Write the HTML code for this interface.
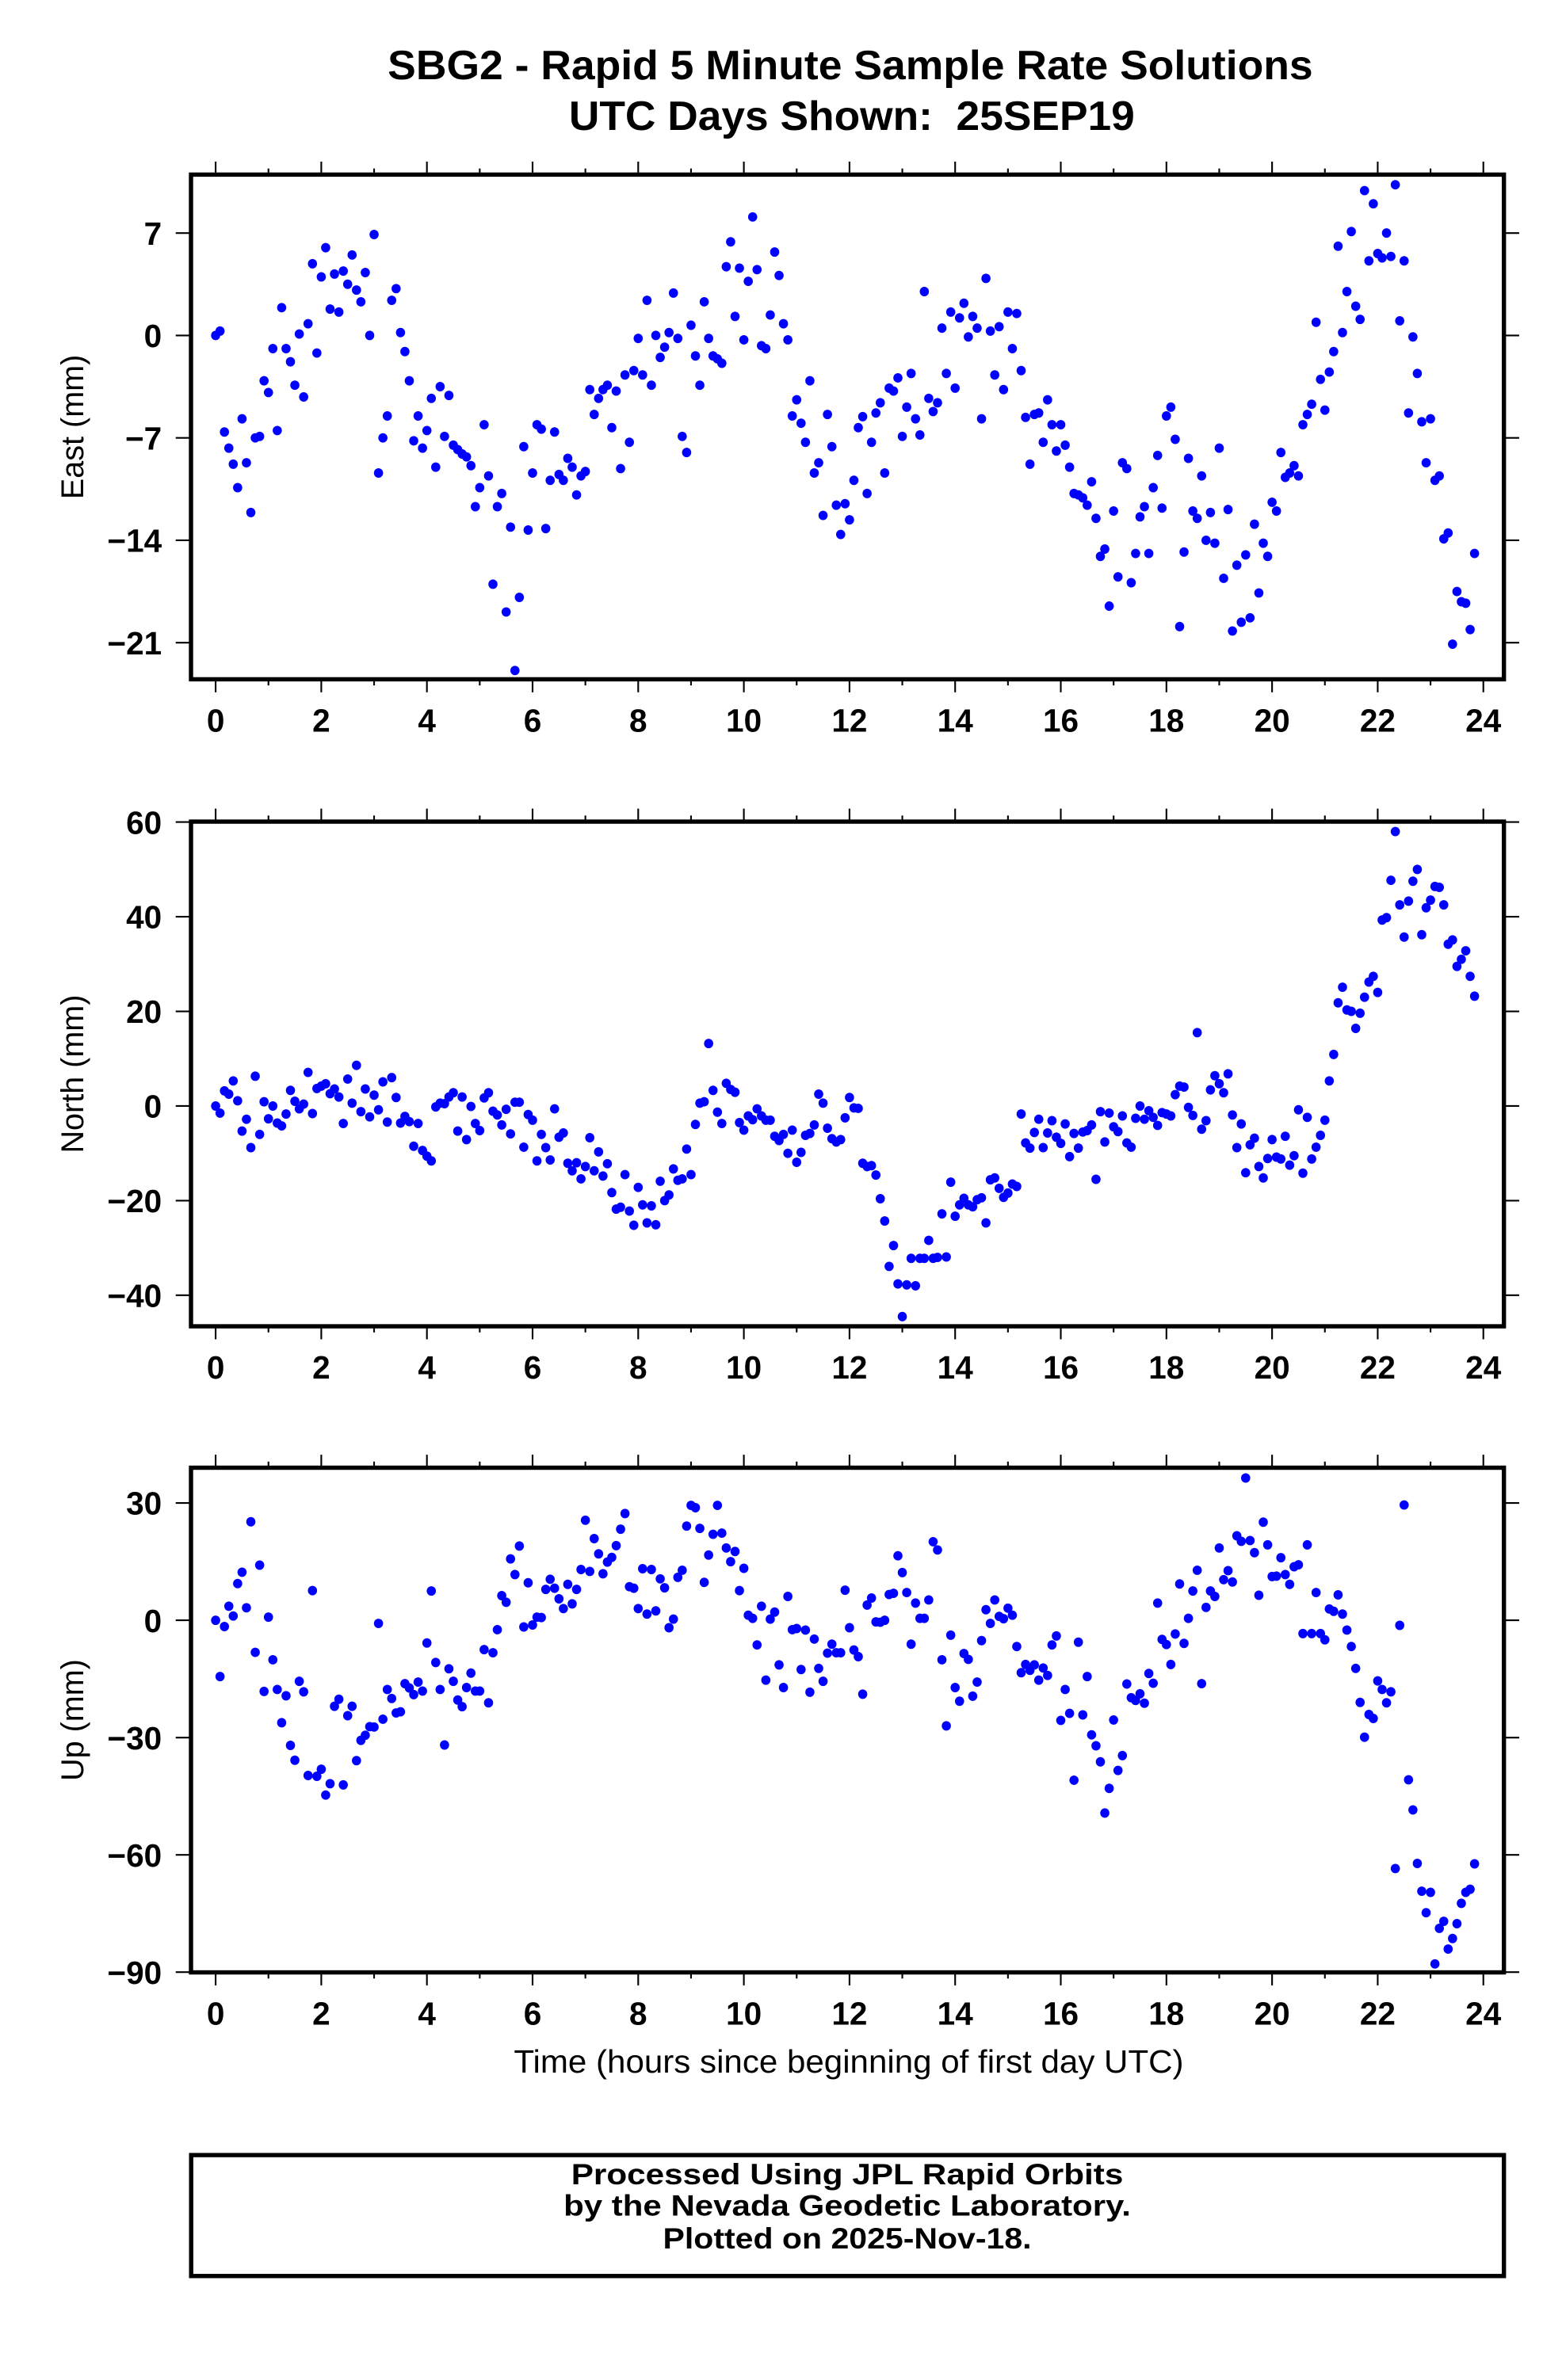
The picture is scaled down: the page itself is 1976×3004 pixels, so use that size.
<!DOCTYPE html>
<html><head><meta charset="utf-8"><title>SBG2 - Rapid 5 Minute Sample Rate Solutions</title>
<style>
html,body{margin:0;padding:0;background:#fff;}
svg{display:block;}
text{font-family:"Liberation Sans",Arial,sans-serif;fill:#000;}
.b{font-weight:bold;}
</style></head>
<body>
<svg id="chart" xmlns="http://www.w3.org/2000/svg" width="1976" height="3004" viewBox="0 0 1024 1556.7">
<rect x="0" y="0" width="1024" height="1556.7" fill="#fff"/>
<text class="b" x="556" y="51.8" font-size="27" text-anchor="middle" textLength="605" lengthAdjust="spacingAndGlyphs">SBG2 - Rapid 5 Minute Sample Rate Solutions</text>
<text class="b" x="557" y="85" font-size="27" text-anchor="middle" textLength="370" lengthAdjust="spacingAndGlyphs" xml:space="preserve">UTC Days Shown:  25SEP19</text>
<g id="plots"></g>
<text x="555" y="1355.7" font-size="21" text-anchor="middle" textLength="438" lengthAdjust="spacingAndGlyphs">Time (hours since beginning of first day UTC)</text>
<rect x="125" y="1409.6" width="858.4" height="79.1" fill="none" stroke="#000" stroke-width="2.8"/>
<text class="b" x="554" y="1428.6" font-size="19" text-anchor="middle" textLength="361" lengthAdjust="spacingAndGlyphs">Processed Using JPL Rapid Orbits</text>
<text class="b" x="554" y="1449.3" font-size="19" text-anchor="middle" textLength="371" lengthAdjust="spacingAndGlyphs">by the Nevada Geodetic Laboratory.</text>
<text class="b" x="554" y="1470.7" font-size="19" text-anchor="middle" textLength="241" lengthAdjust="spacingAndGlyphs">Plotted on 2025-Nov-18.</text>
</svg>
<script>
// Sample interval: 5 minutes, first sample at hour 0
const sampleMinutes = 5;
const xTicks = [0,2,4,6,8,10,12,14,16,18,20,22,24];
const eastTicks = [-21,-14,-7,0,7];
const northTicks = [-40,-20,0,20,40,60];
const upTicks = [-90,-60,-30,0,30];
const eastValues = [0,0.3,-6.6,-7.7,-8.8,-10.4,-5.7,-8.7,-12.1,-7.0,-6.9,-3.1,-3.9,-0.9,-6.5,1.9,-0.9,-1.8,-3.4,0.1,-4.2,0.8,4.9,-1.2,4.0,6.0,1.8,4.2,1.6,4.4,3.5,5.5,3.1,2.3,4.3,0,6.9,-9.4,-7.0,-5.5,2.4,3.2,0.2,-1.1,-3.1,-7.2,-5.5,-7.7,-6.5,-4.3,-9.0,-3.5,-6.9,-4.1,-7.5,-7.8,-8.1,-8.3,-8.9,-11.7,-10.4,-6.1,-9.6,-17.0,-11.7,-10.8,-18.9,-13.1,-22.9,-17.9,-7.6,-13.3,-9.4,-6.1,-6.4,-13.2,-9.9,-6.6,-9.5,-9.9,-8.4,-9.0,-10.9,-9.6,-9.3,-3.7,-5.4,-4.3,-3.7,-3.4,-6.3,-3.8,-9.1,-2.7,-7.3,-2.4,-0.2,-2.7,2.4,-3.4,0,-1.5,-0.8,0.2,2.9,-0.2,-6.9,-8.0,0.7,-1.4,-3.4,2.3,-0.2,-1.4,-1.6,-1.9,4.7,6.4,1.3,4.6,-0.3,3.7,8.1,4.5,-0.7,-0.9,1.4,5.7,4.1,0.8,-0.3,-5.5,-4.4,-6.0,-7.3,-3.1,-9.4,-8.7,-12.3,-5.4,-7.6,-11.6,-13.6,-11.5,-12.6,-9.9,-6.3,-5.55,-10.8,-7.3,-5.3,-4.6,-9.4,-3.6,-3.8,-2.9,-6.9,-4.9,-2.6,-5.7,-6.8,3.0,-4.3,-5.2,-4.6,0.5,-2.6,1.6,-3.6,1.2,2.2,-0.1,1.3,0.5,-5.7,3.9,0.3,-2.7,0.6,-3.7,1.6,-0.9,1.5,-2.4,-5.6,-8.8,-5.4,-5.3,-7.3,-4.4,-6.1,-7.9,-6.1,-7.5,-9.0,-10.8,-10.9,-11.1,-11.6,-10.0,-12.5,-15.1,-14.6,-18.5,-12.0,-16.5,-8.7,-9.1,-16.9,-14.9,-12.4,-11.7,-14.9,-10.4,-8.2,-11.8,-5.5,-4.9,-7.1,-19.9,-14.8,-8.4,-12.0,-12.5,-9.6,-14.0,-12.1,-14.2,-7.7,-16.6,-11.9,-20.2,-15.7,-19.6,-15.0,-19.3,-12.9,-17.6,-14.2,-15.1,-11.4,-12.0,-8.0,-9.7,-9.4,-8.9,-9.6,-6.1,-5.4,-4.7,0.9,-3.0,-5.1,-2.5,-1.1,6.1,0.2,3.0,7.1,2.0,1.1,9.9,5.1,9.0,5.6,5.3,7.0,5.4,10.3,1.0,5.1,-5.3,-0.1,-2.6,-5.9,-8.7,-5.7,-9.9,-9.6,-13.9,-13.5,-21.1,-17.5,-18.2,-18.3,-20.1,-14.9];
const northValues = [0,-1.5,3.2,2.5,5.3,1.1,-5.3,-2.8,-8.8,6.3,-6.0,0.9,-2.7,0,-3.6,-4.2,-1.7,3.3,1.0,-0.6,0.4,7.1,-1.6,3.7,4.2,4.7,2.6,3.6,1.9,-3.7,5.7,0.6,8.6,-1.2,3.6,-2.3,2.3,-0.8,5.1,-3.4,6.0,1.8,-3.6,-2.2,-3.3,-8.5,-3.7,-9.4,-10.6,-11.6,-0.2,0.6,0.5,1.9,2.8,-5.3,1.9,-7.1,-0.1,-3.7,-5.2,1.7,2.8,-1.1,-1.9,-4.0,-0.7,-5.9,0.8,0.8,-8.7,-1.8,-3.0,-11.6,-6.0,-8.8,-11.4,-0.6,-6.6,-5.7,-12.1,-13.7,-12.0,-15.4,-12.8,-6.7,-13.7,-9.7,-14.8,-12.2,-18.3,-21.8,-21.4,-14.5,-22.2,-25.2,-17.2,-20.9,-24.7,-21.1,-25.1,-15.9,-20.0,-18.8,-13.3,-15.7,-15.4,-9.1,-14.5,-3.9,0.6,0.9,13.2,3.3,-1.3,-3.7,4.8,3.5,2.9,-3.5,-5.1,-2.1,-2.9,-0.6,-2.1,-3.0,-3.0,-6.4,-7.3,-6.0,-10.0,-5.1,-11.9,-9.8,-6.2,-5.8,-4.0,2.5,0.6,-4.7,-6.9,-7.6,-7.1,-2.5,1.8,-0.4,-0.5,-12.1,-12.8,-12.6,-14.6,-19.6,-24.3,-33.9,-29.5,-37.6,-44.5,-37.8,-32.2,-38.0,-32.2,-32.2,-28.4,-32.2,-32.0,-22.8,-31.9,-16.1,-23.3,-20.9,-19.5,-20.9,-21.3,-19.8,-19.4,-24.7,-15.6,-15.2,-17.4,-19.3,-18.4,-16.5,-17.0,-1.7,-7.8,-8.9,-5.6,-2.8,-8.8,-5.7,-3.1,-6.6,-7.9,-3.8,-10.7,-5.8,-8.9,-5.5,-5.2,-4.0,-15.5,-1.2,-7.6,-1.5,-4.4,-5.4,-2.1,-7.8,-8.7,-2.6,0,-2.8,-1.0,-2.4,-4.1,-1.4,-1.7,-2.1,2.4,4.2,4.0,-0.3,-2.0,15.5,-4.9,-3.1,3.4,6.4,4.7,2.8,6.8,-1.9,-8.8,-3.8,-14.1,-8.2,-6.8,-12.8,-15.2,-11.1,-7.1,-10.8,-11.2,-6.4,-12.5,-10.5,-0.8,-14.2,-2.4,-11.2,-8.7,-6.2,-3.0,5.3,10.9,21.8,25.1,20.3,20.0,16.4,19.6,23.0,26.2,27.4,24.0,39.3,39.8,47.7,58.0,42.5,35.7,43.3,47.5,50.0,36.2,41.9,43.5,46.4,46.2,42.5,34.2,35.1,29.5,31.0,32.8,27.4,23.2];
const upValues = [0,-14.4,-1.6,3.6,1.1,9.4,12.3,3.2,25.2,-8.2,14.1,-18.2,0.8,-10.1,-17.7,-26.2,-19.3,-32.0,-35.8,-15.6,-18.3,-39.7,7.6,-39.9,-38.1,-44.7,-41.8,-22.0,-20.2,-42.1,-24.4,-22.0,-35.9,-30.7,-29.4,-27.2,-27.3,-0.8,-25.3,-17.7,-20.0,-23.7,-23.4,-16.2,-17.3,-19.0,-15.8,-18.1,-5.8,7.5,-10.8,-17.7,-31.9,-12.4,-15.6,-20.4,-22.1,-17.2,-13.5,-18.1,-18.1,-7.5,-21.1,-8.3,-2.4,6.3,4.6,15.7,11.7,19.0,-1.7,9.6,-1.2,0.8,0.7,7.9,10.5,8.2,5.5,3.0,9.2,4.2,7.9,13.0,25.6,12.5,20.9,17.0,11.9,14.9,16.1,19.1,23.3,27.3,8.6,8.2,3.0,13.2,1.6,13.0,2.4,10.6,8.3,-1.9,0.3,11.0,12.8,24.1,29.4,28.8,23.5,9.7,16.7,22.0,29.4,22.3,18.5,15.0,17.6,7.6,13.3,1.3,0.5,-6.3,3.6,-15.3,0.3,2.1,-11.4,-17.2,6.1,-2.4,-2.1,-12.6,-2.5,-18.4,-4.8,-12.3,-15.6,-8.4,-6.1,-8.3,-8.3,7.7,-1.9,-7.6,-9.3,-18.9,3.9,5.7,-0.4,-0.5,0,6.6,6.9,16.5,12.2,7.1,-6.1,4.4,0.5,0.5,5.2,20.1,18.0,-10.1,-27.0,-3.8,-17.2,-20.7,-8.5,-10.0,-19.4,-15.8,-5.2,2.7,-0.8,5.2,1.0,0.4,3.1,1.3,-6.7,-13.4,-11.3,-12.8,-11.4,-15.3,-12.2,-14.1,-6.3,-4.0,-25.6,-17.7,-23.8,-40.9,-5.6,-24.2,-14.4,-29.3,-32.1,-36.2,-49.3,-43.0,-25.5,-38.4,-34.6,-16.3,-19.8,-20.5,-18.8,-21.2,-13.6,-16.1,4.4,-4.9,-6.2,-11.3,-3.5,9.3,-5.9,0.5,7.5,12.8,-16.2,3.3,7.5,6.1,18.5,10.4,12.7,9.8,21.6,20.2,36.4,20.4,17.3,6.4,25.1,19.3,11.2,11.3,16.0,11.7,9.2,13.7,14.2,-3.4,19.3,-3.4,7.1,-3.4,-5.0,2.9,2.3,6.5,1.6,-2.5,-6.7,-12.3,-21.0,-29.9,-24.1,-25.1,-15.5,-17.7,-21.1,-18.3,-63.5,-1.3,29.5,-40.8,-48.5,-62.2,-69.3,-74.8,-69.6,-87.9,-78.8,-77.0,-84.1,-81.4,-77.6,-72.4,-69.6,-68.8,-62.3];

const NS = 'http://www.w3.org/2000/svg';
const X0 = 124.9, X1 = 983.4;
function xScale(h){ return 141.0 + h * 34.54; }
function mk(tag, attrs, parent){
  const e = document.createElementNS(NS, tag);
  for (const k in attrs) e.setAttribute(k, attrs[k]);
  parent.appendChild(e);
  return e;
}
function fmt(v){ return v < 0 ? '\u2212' + Math.abs(v) : String(v); }

const panels = [
  {key:'east', title:'East (mm)', values:eastValues, ticks:eastTicks, top:114.2, bottom:444.3, zeroY:219.4, perUnit:9.57},
  {key:'north', title:'North (mm)', values:northValues, ticks:northTicks, top:537.4, bottom:867.5, zeroY:723.4, perUnit:3.095},
  {key:'up', title:'Up (mm)', values:upValues, ticks:upTicks, top:960.0, bottom:1290.1, zeroY:1059.8, perUnit:2.557}
];
const root = document.getElementById('plots');
panels.forEach(p => {
  const yScale = v => p.zeroY - v * p.perUnit;
  const g = mk('g', {}, root);
  
  
  // x ticks (top and bottom)
  for (let h = 0; h <= 24; h++) {
    const x = xScale(h);
    const major = h % 2 === 0;
    const len = major ? 8.5 : 4;
    const tb = mk('line', {x1:x, x2:x, y1:p.bottom, y2:p.bottom + len, stroke:'#000', 'stroke-width':1.1}, g);
    
    
    const tt = mk('line', {x1:x, x2:x, y1:p.top, y2:p.top - len, stroke:'#000', 'stroke-width':1.1}, g);
    
    
  }
  xTicks.forEach(h => {
    const t = mk('text', {x:xScale(h), y:p.bottom + 34.3, 'font-size':21, 'font-weight':'bold', 'text-anchor':'middle'}, g);
    
    
    t.textContent = String(h);
  });
  // y ticks
  p.ticks.forEach(v => {
    const y = yScale(v);
    const l = mk('line', {x1:X0 - 10, x2:X0, y1:y, y2:y, stroke:'#000', 'stroke-width':1.1}, g);
    
    
    const r = mk('line', {x1:X1, x2:X1 + 10, y1:y, y2:y, stroke:'#000', 'stroke-width':1.1}, g);
    
    
    const t = mk('text', {x:105.8, y:y + 7.6, 'font-size':21, 'font-weight':'bold', 'text-anchor':'end'}, g);
    
    
    t.textContent = fmt(v);
  });
  // y axis title
  const cy = (p.top + p.bottom) / 2;
  const yt = mk('text', {x:54.4, y:cy, 'font-size':20.5, 'text-anchor':'middle', transform:'rotate(-90 54.4 ' + cy + ')'}, g);
  
  
  yt.textContent = p.title;
  // points
  const pts = mk('g', {fill:'#0000ff'}, g);
  
  
  p.values.forEach((v, i) => {
    const h = i * sampleMinutes / 60;
    const c = mk('ellipse', {cx:xScale(h), cy:yScale(v), rx:3.0, ry:3.1}, pts);
    
    
  });
  // frame
  const f = mk('rect', {x:X0, y:p.top, width:X1 - X0, height:p.bottom - p.top, fill:'none', stroke:'#000', 'stroke-width':2.8}, g);
  
  
});
</script>
</body></html>
